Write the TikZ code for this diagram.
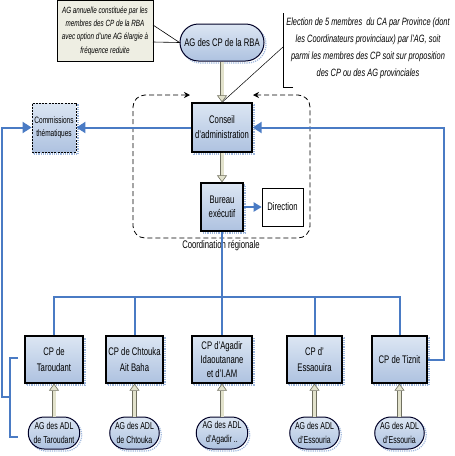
\documentclass[tikz,border=0pt]{standalone}
\usepackage{fontspec}
\setmainfont{Liberation Sans}[FakeStretch=0.7]
\usetikzlibrary{arrows.meta,shapes.misc,shadows}
\definecolor{lineblue}{HTML}{4A7BC4}
\definecolor{boxtop}{HTML}{DCE6F3}
\definecolor{boxbot}{HTML}{AEC2E0}
\definecolor{shadowblue}{HTML}{9DB6DC}
\definecolor{beige}{HTML}{E2E2CC}
\definecolor{beigedark}{HTML}{707060}
\definecolor{notefill}{HTML}{EEEEE3}
\tikzset{
  sh/.style={general shadow={draw=shadowblue, densely dotted, line width=1.2pt, shadow xshift=2pt, shadow yshift=-2pt}},
  box/.style={sh, draw=black, line width=1.3pt, top color=boxtop, bottom color=boxbot, inner sep=1pt, align=center, font=\fontsize{11}{15.5}\selectfont},
  pill/.style={sh, rounded rectangle, draw=black!85!blue, line width=1pt, top color=boxtop, bottom color=boxbot, inner sep=1pt, align=center},
  blueline/.style={draw=lineblue, line width=2pt},
  bluetip/.style={blueline, -{Triangle[length=9pt,width=11pt]}},
  beigearrow/.style={draw=beigedark, line width=0.6pt, double=beige, double distance=3pt, -{Triangle[length=7pt,width=10pt,line width=0.6pt,fill=beige]}},
  dashpath/.style={draw=black, line width=0.8pt, dash pattern=on 5pt off 3pt, rounded corners=12pt, {Stealth[length=6pt,width=6pt]}-{Stealth[length=6pt,width=6pt]}},
}
\begin{document}
\begin{tikzpicture}[x=1pt,y=-1pt]
\useasboundingbox (0,0) rectangle (455,456);

% callout top-left
\node[draw=black, line width=0.8pt, fill=notefill, minimum width=96pt, minimum height=61pt, inner sep=0pt, align=center, font=\itshape\fontsize{9}{13.2}\selectfont] (note) at (105,31) {AG annuelle constituée par les\\membres des CP de la RBA\\avec option d'une AG élargie à\\fréquence reduite};

% top nodes
\node[pill, minimum width=86pt, minimum height=37pt, font=\fontsize{11}{13}\selectfont] (ag) at (222,42.5) {AG des CP de la RBA};
\node[box, minimum width=60pt, minimum height=49pt, font=\fontsize{11}{15}\selectfont] (conseil) at (222,127.5) {Conseil\\d'administration};
\node[box, minimum width=42pt, minimum height=48pt, font=\fontsize{11}{13.5}\selectfont] (bureau) at (222,207) {Bureau\\exécutif};
\node[draw=black, line width=0.6pt, fill=white, minimum width=41pt, minimum height=38pt, inner sep=1pt, font=\fontsize{11}{13}\selectfont] (direction) at (282.5,207) {Direction};
\node[box, draw=black, line width=0.8pt, dash pattern=on 2pt off 1.2pt, minimum width=44pt, minimum height=49pt, font=\fontsize{9.3}{13}\selectfont] (comm) at (54,127.5) {Commissions\\thématiques};

% right annotation
\node[align=center, font=\itshape\fontsize{10.6}{17}\selectfont, inner sep=0pt] (elect) at (368,48.5) {Election de 5 membres\ \ du CA par Province (dont\\les Coordinateurs provinciaux) par l'AG, soit\\parmi les membres des CP soit sur proposition\\des CP ou des AG provinciales};
\coordinate (brtop) at (283,13);
\coordinate (brbot) at (293,87);
\coordinate (brmid) at (283,47);
\draw[line width=0.6pt] (brbot) -- (283,87) -- (brtop);
\draw[line width=0.5pt] (brmid) -- (conseil.north);

% callout pointer
\draw[line width=0.6pt] (153,25) -- (ag.west) -- (153,42);

% dashed coordination frame
\coordinate (dl) at (190,95);
\coordinate (dr) at (253,95);
\draw[dashpath] (dl) -- (133,95) -- (133,238) -- (310,238) -- (310,95) -- (dr);
\node[font=\fontsize{11}{13}\selectfont, inner sep=0pt] (coord) at (221,246) {Coordination régionale};

% bottom row
\node[box, minimum width=58pt, minimum height=47pt] (cp1) at (54,359.5) {CP de\\Taroudant};
\node[box, minimum width=57pt, minimum height=47pt] (cp2) at (134.5,359.5) {CP de Chtouka\\Ait Baha};
\node[box, minimum width=60pt, minimum height=47pt, font=\fontsize{11}{14}\selectfont] (cp3) at (222,359.5) {CP d'Agadir\\Idaoutanane\\et d'I.AM};
\node[box, minimum width=55pt, minimum height=47pt] (cp4) at (314.5,359.5) {CP d'\\Essaouira};
\node[box, minimum width=55pt, minimum height=47pt] (cp5) at (399.5,359.5) {CP de Tiznit};

\tikzset{adl/.style={pill, minimum height=32pt, font=\fontsize{10}{14.5}\selectfont}}
\node[adl, minimum width=42pt] (adl1) at (54,433) {AG des ADL\\de Taroudant};
\node[adl, minimum width=41pt] (adl2) at (134.5,433) {AG des ADL\\de Chtouka};
\node[adl, minimum width=45pt] (adl3) at (222,433) {AG des ADL\\d'Agadir ..};
\node[adl, minimum width=42pt] (adl4) at (314.5,433) {AG des ADL\\d'Essouria};
\node[adl, minimum width=42pt] (adl5) at (399.5,433) {AG des ADL\\d'Essouria};

% beige arrows
\draw[beigearrow] (ag.south) -- (conseil.north);
\draw[beigearrow] (conseil.south) -- (bureau.north);
\foreach \i in {1,...,5} {\draw[beigearrow] (adl\i.north) -- (cp\i.south);}

% blue connectors
\draw[bluetip] (conseil.west) -- (comm.east);
\draw[blueline, -{Triangle[length=8pt,width=9pt]}] (bureau.east) -- (direction.west);
\coordinate (bus) at (222,297);
\draw[blueline] (bureau.south) -- (cp3.north);
\draw[blueline] (cp1.north) |- (bus) -| (cp5.north);
\draw[blueline] (cp2.north) -- (cp2.north |- bus);
\draw[blueline] (cp4.north) -- (cp4.north |- bus);
\draw[bluetip] (cp5.east) -- ++(16,0) |- (conseil.east);
\coordinate (b1) at (18,358);
\coordinate (b2) at (18,437);
\coordinate (bm) at (10,397);
\draw[blueline] (b1) -- ++(-8,0) |- (b2);
\draw[bluetip] (bm) -- (2,397) |- (comm.west);
\end{tikzpicture}
\end{document}
